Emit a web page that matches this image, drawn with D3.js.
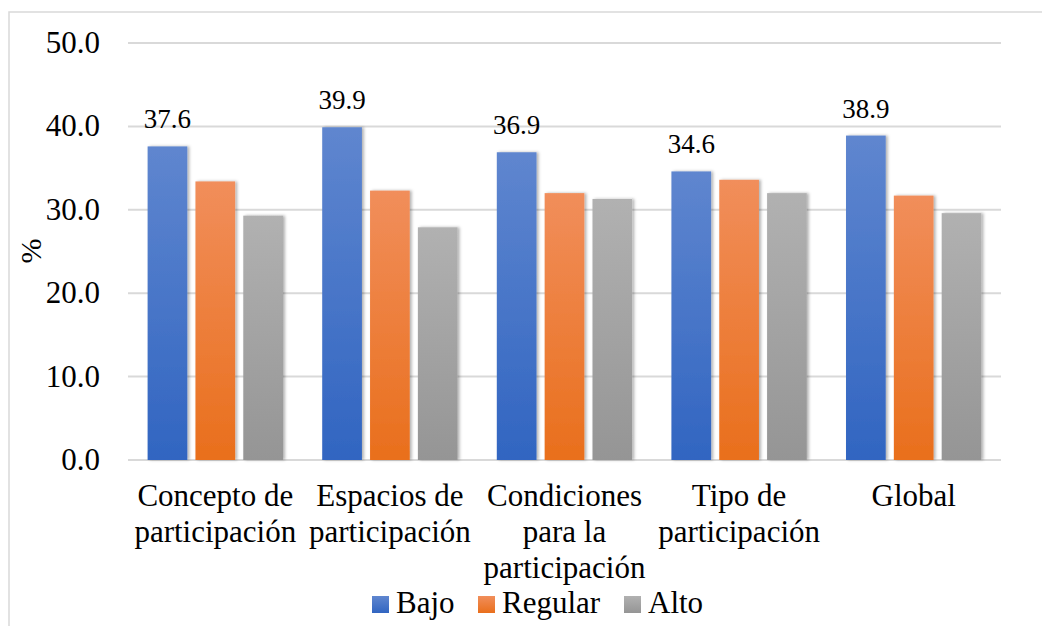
<!DOCTYPE html>
<html>
<head>
<meta charset="utf-8">
<script src="https://cdn.jsdelivr.net/npm/d3@7"></script>
<style>
  body { margin: 0; background: #fff; }
</style>
</head>
<body>
<div id="chart"></div>
<script>
var categories = ["Concepto de participación", "Espacios de participación",
  "Condiciones para la participación", "Tipo de participación", "Global"];
var seriesNames = ["Bajo", "Regular", "Alto"];
var bajo = [37.6, 39.9, 36.9, 34.6, 38.9];
var regular = [33.4, 32.3, 32.0, 33.6, 31.7];
var alto = [29.3, 27.9, 31.3, 32.0, 29.6];
var yTicks = [0, 10, 20, 30, 40, 50];

var width = 1042, height = 626;
var fontFamily = "'Liberation Serif', 'Times New Roman', Times, 'DejaVu Serif', serif";
var colors = {
  Bajo: ["#5f86cf", "#3165c1"],
  Regular: ["#f18e5b", "#e96f1c"],
  Alto: ["#b1b1b1", "#959595"]
};

var rows = categories.map(function(c, i) {
  return { cat: c, Bajo: bajo[i], Regular: regular[i], Alto: alto[i] };
});

var svg = d3.select('#chart')
  .append('svg')
  .attr('width', width)
  .attr('height', height)
  .attr('font-family', fontFamily)
  .style('font-family', fontFamily);

var defs = svg.append('defs');
seriesNames.forEach(function(s) {
  var g = defs.append('linearGradient')
    .attr('id', 'grad-' + s)
    .attr('x1', 0).attr('y1', 0).attr('x2', 0).attr('y2', 1);
  g.append('stop').attr('offset', '0%').attr('stop-color', colors[s][0]);
  g.append('stop').attr('offset', '100%').attr('stop-color', colors[s][1]);
});
var shadow = defs.append('filter').attr('id', 'shadow')
  .attr('x', '-20%').attr('y', '-5%').attr('width', '140%').attr('height', '110%');
shadow.append('feDropShadow')
  .attr('dx', 2).attr('dy', 0).attr('stdDeviation', 1.5)
  .attr('flood-color', '#000').attr('flood-opacity', 0.3);

// chart frame
svg.append('rect')
  .attr('x', 9).attr('y', 12)
  .attr('width', 1100).attr('height', 700)
  .attr('fill', 'none')
  .attr('stroke', '#d9d9d9')
  .attr('stroke-width', 1.5);

var x0 = d3.scaleBand().domain(categories).range([128, 1001]).padding(0);
var x1 = d3.scaleBand().domain(seriesNames).range([0, x0.bandwidth()])
  .paddingInner(0.17).paddingOuter(0.41);
var y = d3.scaleLinear().domain([0, 50]).range([460, 43]);

// gridlines
svg.append('g').selectAll('line')
  .data(yTicks)
  .enter()
  .append('line')
  .attr('x1', 128).attr('x2', 1001)
  .attr('y1', function(d) { return y(d); })
  .attr('y2', function(d) { return y(d); })
  .attr('stroke', '#d9d9d9')
  .attr('stroke-width', 2);

// y tick labels
svg.append('g').selectAll('text')
  .data(yTicks)
  .enter()
  .append('text')
  .attr('x', 100)
  .attr('y', function(d) { return y(d) + 10; })
  .attr('text-anchor', 'end')
  .style('font-size', '31px')
  .text(function(d) { return d.toFixed(1); });

// y title
svg.append('text')
  .attr('transform', 'translate(41,251) rotate(-90)')
  .attr('text-anchor', 'middle')
  .style('font-size', '30px')
  .text('%');

// bars
var groups = svg.append('g').selectAll('g')
  .data(rows)
  .enter()
  .append('g')
  .attr('transform', function(d) { return 'translate(' + x0(d.cat) + ',0)'; });

groups.selectAll('rect')
  .data(function(d) { return seriesNames.map(function(s) { return { key: s, value: d[s] }; }); })
  .enter()
  .append('rect')
  .attr('x', function(d) { return x1(d.key); })
  .attr('y', function(d) { return y(d.value); })
  .attr('width', x1.bandwidth())
  .attr('height', function(d) { return y(0) - y(d.value); })
  .attr('fill', function(d) { return 'url(#grad-' + d.key + ')'; })
  .attr('filter', 'url(#shadow)');

// data labels (Bajo only)
groups.append('text')
  .attr('x', x1('Bajo') + x1.bandwidth() / 2)
  .attr('y', function(d) { return y(d.Bajo) - 18; })
  .attr('text-anchor', 'middle')
  .style('font-size', '27px')
  .text(function(d) { return d.Bajo.toFixed(1); });

// category labels, wrapped to the band width
var catText = svg.append('g').selectAll('text')
  .data(categories)
  .enter()
  .append('text')
  .attr('x', function(d) { return x0(d) + x0.bandwidth() / 2; })
  .attr('y', 506)
  .attr('text-anchor', 'middle')
  .style('font-size', '31px');

catText.each(function(d) {
  var el = d3.select(this);
  var words = d.split(' ');
  var line = [];
  var cx = x0(d) + x0.bandwidth() / 2;
  var tspan = el.append('tspan').attr('x', cx).attr('dy', 0);
  words.forEach(function(w) {
    line.push(w);
    tspan.text(line.join(' '));
    if (tspan.node().getComputedTextLength() > x0.bandwidth() - 2 && line.length > 1) {
      line.pop();
      tspan.text(line.join(' '));
      line = [w];
      tspan = el.append('tspan').attr('x', cx).attr('dy', 36).text(w);
    }
  });
});

// legend
var legendX = [372, 478, 624];
var legend = svg.append('g').selectAll('g')
  .data(seriesNames)
  .enter()
  .append('g')
  .attr('transform', function(d, i) { return 'translate(' + legendX[i] + ',596)'; });

legend.append('rect')
  .attr('width', 17).attr('height', 17)
  .attr('fill', function(d) { return 'url(#grad-' + d + ')'; });

legend.append('text')
  .attr('x', 24)
  .attr('y', 17)
  .style('font-size', '31px')
  .text(function(d) { return d; });
</script>
</body>
</html>
